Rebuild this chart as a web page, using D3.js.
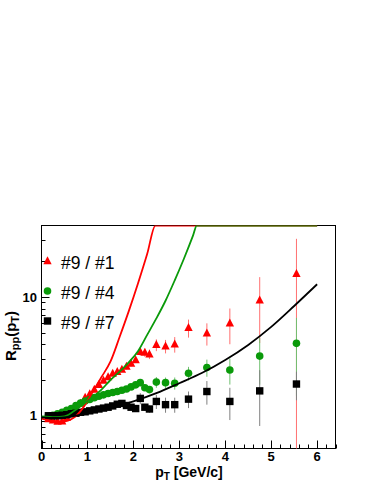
<!DOCTYPE html>
<html><head><meta charset="utf-8">
<script src="https://cdn.jsdelivr.net/npm/d3@7"></script>
<style>html,body{margin:0;padding:0;background:#fff;}svg{display:block;}</style>
</head><body>
<svg id="c" width="374" height="484"></svg>
<script>
// ---- data ----
const pT = [0.15,0.25,0.35,0.45,0.55,0.65,0.75,0.85,0.95,1.05,1.15,1.25,1.35,1.45,1.55,1.65,1.75,1.85,1.95,2.05,2.15,2.25,2.35,2.5,2.7,2.9,3.2,3.6,4.1,4.75,5.55];
const red   = [0.94,0.915,0.895,0.9,0.96,1.05,1.15,1.27,1.42,1.52,1.66,1.82,1.98,2.12,2.27,2.35,2.45,2.6,2.75,2.95,3.45,3.4,3.3,3.95,3.85,4.0,5.5,4.95,6.0,9.4,15.7];
const redErr= [0.02,0.02,0.02,0.02,0.02,0.03,0.03,0.04,0.05,0.05,0.06,0.07,0.08,0.09,0.1,0.11,0.12,0.14,0.15,0.17,0.25,0.27,0.3,0.45,0.5,0.6,0.95,1.05,2.0,5.3,15.2];
const green = [1.0,1.01,1.04,1.07,1.11,1.15,1.22,1.28,1.33,1.37,1.42,1.46,1.5,1.54,1.57,1.6,1.64,1.68,1.75,1.82,1.9,1.72,1.66,1.92,1.9,1.88,2.28,2.55,2.43,3.18,4.07];
const greenErr=[0.02,0.02,0.02,0.02,0.02,0.02,0.03,0.03,0.03,0.03,0.04,0.04,0.04,0.05,0.05,0.05,0.06,0.06,0.07,0.07,0.08,0.08,0.09,0.2,0.2,0.22,0.3,0.42,0.6,1.35,2.6];
const black = [1.0,1.0,1.0,1.01,1.02,1.04,1.05,1.07,1.08,1.1,1.12,1.14,1.16,1.18,1.21,1.25,1.27,1.22,1.18,1.15,1.4,1.18,1.14,1.32,1.24,1.24,1.38,1.6,1.32,1.62,1.85];
const blackErr=[0.02,0.02,0.02,0.02,0.02,0.02,0.02,0.02,0.02,0.02,0.02,0.03,0.03,0.03,0.03,0.03,0.04,0.04,0.04,0.05,0.15,0.08,0.08,0.18,0.18,0.18,0.22,0.36,0.4,0.8,0.5];

// fitted curves (pT, value) as read; the flat part is where they run along the frame top
const redCurve   = [[0,0.945],[0.2,0.91],[0.45,0.89],[0.7,0.96],[0.9,1.16],[1.1,1.55],[1.3,2.1],[1.5,2.85],[1.7,4.6],[1.9,7.6],[2.1,13],[2.3,23],[2.48,40],[6.0,40]];
const greenCurve = [[0,0.99],[0.3,0.975],[0.5,0.99],[0.7,1.09],[0.9,1.24],[1.1,1.42],[1.3,1.65],[1.5,2.0],[1.7,2.35],[1.9,2.82],[2.1,3.5],[2.3,4.8],[2.5,6.6],[2.7,9.3],[2.9,13.8],[3.1,21],[3.3,33],[3.38,40],[6.0,40]];
const blackCurve = [[0,0.97],[0.3,0.96],[0.6,0.98],[1.0,1.05],[1.5,1.16],[2.0,1.32],[2.5,1.55],[3.0,1.88],[3.5,2.3],[4.0,2.95],[4.5,3.95],[5.0,5.6],[5.5,8.4],[6.0,12.8]];

const xTicks = [0,1,2,3,4,5,6];
const yTickLabels = [1,10];
const legendLabels = ["#9 / #1","#9 / #4","#9 / #7"];

// ---- drawing ----
const svg = d3.select("#c");
const FONT = "'Liberation Sans', Arial, Helvetica, sans-serif";
const L=41.5, R=335.5, T=225.5, B=448.5;
const x = d3.scaleLinear().domain([0,6.4]).range([L,R]);
const y = d3.scaleLog().domain([0.53,40]).range([B,T]);

const COL = {red:"#ff0000", green:"#0a9a0a", black:"#000000"};
const ECOL = {red:"#ff7070", green:"#70c070", black:"#808080"};

svg.append("clipPath").attr("id","fr").append("rect")
  .attr("x",L).attr("y",T).attr("width",R-L).attr("height",B-T);

// frame
svg.append("rect").attr("x",L).attr("y",T).attr("width",R-L).attr("height",B-T)
  .attr("fill","none").attr("stroke","#000").attr("stroke-width",1);

// x ticks
const g = svg.append("g");
d3.range(0,6.41,0.2).forEach(v=>{
  const major = Math.abs(v-Math.round(v))<1e-6;
  const px = Math.round(x(v))+0.5;
  g.append("line").attr("x1",px).attr("x2",px).attr("y1",B).attr("y2",B-(major?8:4))
    .attr("stroke","#000").attr("stroke-width",1);
});
xTicks.forEach(v=>{
  g.append("text").attr("x",x(v)).attr("y",461).attr("text-anchor","middle")
   .attr("font-family",FONT).attr("font-weight","bold").attr("font-size",13).text(v);
});
// y ticks
const yMinor=[0.6,0.7,0.8,0.9,2,3,4,5,6,7,8,9,20,30];
yMinor.forEach(v=>{
  const py=Math.round(y(v))+0.5;
  g.append("line").attr("x1",L).attr("x2",L+4).attr("y1",py).attr("y2",py).attr("stroke","#000");
});
yTickLabels.forEach(v=>{
  const py=Math.round(y(v))+0.5;
  g.append("line").attr("x1",L).attr("x2",L+8).attr("y1",py).attr("y2",py).attr("stroke","#000");
  g.append("text").attr("x",37).attr("y",y(v)+4.6).attr("text-anchor","end")
   .attr("font-family",FONT).attr("font-weight","bold").attr("font-size",13).text(v);
});

// axis titles
const xt = svg.append("text").attr("x",189).attr("y",476.5).attr("text-anchor","middle")
  .attr("font-family",FONT).attr("font-weight","bold").attr("font-size",14);
xt.append("tspan").text("p");
xt.append("tspan").attr("font-size",10).attr("dy",3).text("T");
xt.append("tspan").attr("dy",-3).text(" [GeV/c]");

const yt = svg.append("text").attr("transform","translate(15.5,336) rotate(-90)").attr("text-anchor","middle")
  .attr("font-family",FONT).attr("font-weight","bold").attr("font-size",15);
yt.append("tspan").text("R");
yt.append("tspan").attr("font-size",11).attr("dy",3).text("pp");
yt.append("tspan").attr("dy",-3).text("(p");
yt.append("tspan").attr("font-size",11).attr("dy",3).text("T");
yt.append("tspan").attr("dy",-3).text(")");

// markers
const tri = s => `M0,${-s*0.6}L${s*0.52},${s*0.4}L${-s*0.52},${s*0.4}Z`;
function drawSeries(vals, errs, key, shape){
  const gg = svg.append("g").attr("clip-path","url(#fr)");
  pT.forEach((p,i)=>{
    const cx=x(p), lo=Math.max(vals[i]-errs[i],0.3), hi=vals[i]+errs[i];
    gg.append("line").attr("x1",cx).attr("x2",cx).attr("y1",y(lo)).attr("y2",y(hi))
      .attr("stroke",ECOL[key]).attr("stroke-width",1);
  });
  pT.forEach((p,i)=>{
    const cx=x(p), cy=y(vals[i]);
    marker(gg, shape, cx, cy, COL[key]);
  });
}
function marker(gg, shape, cx, cy, col){
  if(shape==="tri") gg.append("path").attr("d",tri(8)).attr("transform",`translate(${cx},${cy})`).attr("fill",col);
  else if(shape==="circ") gg.append("circle").attr("cx",cx).attr("cy",cy).attr("r",3.8).attr("fill",col);
  else gg.append("rect").attr("x",cx-3.7).attr("y",cy-3.7).attr("width",7.4).attr("height",7.4).attr("fill",col);
}
drawSeries(red, redErr, "red", "tri");
drawSeries(green, greenErr, "green", "circ");
drawSeries(black, blackErr, "black", "sq");

// curves
const line = d3.line().x(d=>x(d[0])).y(d=>y(d[1])).curve(d3.curveMonotoneX);
const cg = svg.append("g").attr("clip-path","url(#fr)");
[[redCurve,"red"],[greenCurve,"green"],[blackCurve,"black"]].forEach(([c,k])=>{
  cg.append("path").attr("d",line(c)).attr("fill","none").attr("stroke",COL[k]).attr("stroke-width",1.8);
});

// legend
const shapes=["tri","circ","sq"], keys=["red","green","black"];
legendLabels.forEach((t,i)=>{
  const cy = 261 + i*30;
  marker(svg, shapes[i], 47.5, cy, COL[keys[i]]);
  svg.append("text").attr("x",61).attr("y",cy+7.5).attr("font-family",FONT)
    .attr("font-size",17.5).attr("fill","#000").text(t);
});
</script>
</body></html>
